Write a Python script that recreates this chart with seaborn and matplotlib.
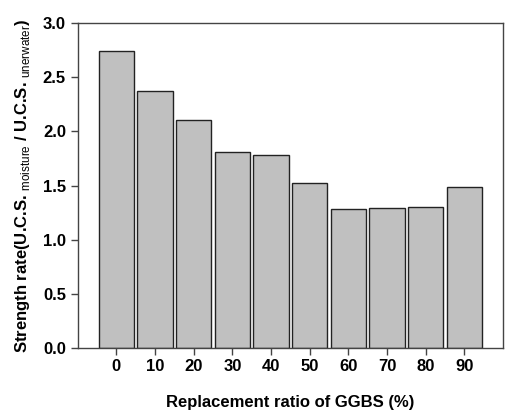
import pandas as pd
import seaborn as sns
import matplotlib.pyplot as plt

ggbs = ['0', '10', '20', '30', '40', '50', '60', '70', '80', '90']
strength_rate = [2.74, 2.37, 2.11, 1.81, 1.78, 1.52, 1.28, 1.29, 1.30, 1.49]

df = pd.DataFrame({'ggbs': ggbs, 'rate': strength_rate})

sns.set_style('ticks')
plt.rcParams['font.family'] = ['Liberation Sans', 'DejaVu Sans']
plt.rcParams['mathtext.fontset'] = 'custom'
plt.rcParams['mathtext.rm'] = 'Liberation Sans'
plt.rcParams['text.color'] = 'black'
plt.rcParams['axes.labelcolor'] = 'black'
plt.rcParams['xtick.color'] = 'black'
plt.rcParams['ytick.color'] = 'black'

fig = plt.figure(figsize=(5.05, 4.12), dpi=100)
ax = fig.add_axes([0.154, 0.155, 0.842, 0.789])

sns.barplot(x='ggbs', y='rate', data=df, color='#c0c0c0', saturation=1,
            width=0.91, edgecolor='#222222', linewidth=1.0, ax=ax)

ax.set_xlim(-1, 10)
ax.set_ylim(0, 3.0)
ax.set_yticks([0, 0.5, 1.0, 1.5, 2.0, 2.5, 3.0])
ax.set_yticklabels(['0.0', '0.5', '1.0', '1.5', '2.0', '2.5', '3.0'])

for side in ['top', 'right', 'left', 'bottom']:
    ax.spines[side].set_visible(True)
    ax.spines[side].set_color('#444444')
    ax.spines[side].set_linewidth(1.0)

ax.tick_params(axis='both', direction='out', length=5, width=1, color='#444444',
               labelsize=12, labelcolor='black')
ax.tick_params(axis='x', pad=3)
for lbl in ax.get_xticklabels() + ax.get_yticklabels():
    lbl.set_fontweight('bold')

ax.set_xlabel('Replacement ratio of GGBS (%)', fontsize=12, fontweight='bold',
              labelpad=15)
ax.set_ylabel(r'Strength rate(U.C.S. $_{\mathrm{moisture}}$ / U.C.S. $_{\mathrm{unerwater}}$)',
              fontsize=12, fontweight='bold', labelpad=8)

plt.savefig('out.png', dpi=100)
